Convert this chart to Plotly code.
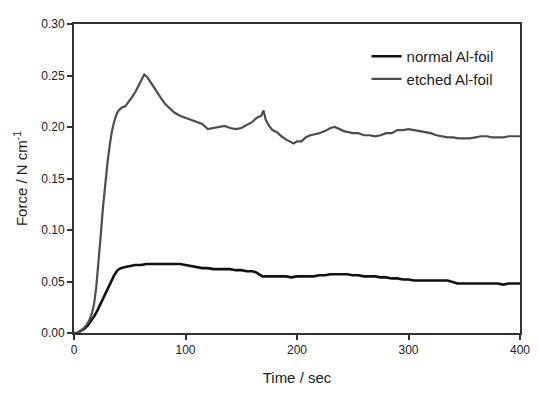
import plotly.graph_objects as go

# normal Al-foil
t_normal = [0, 3, 6, 9, 12, 15, 18, 21, 24, 27, 30, 33, 36, 39, 42, 46, 50, 55, 60, 65, 70, 75, 80, 85, 90, 95,
            100, 105, 110, 115, 120, 125, 130, 135, 140, 145, 150, 155, 160, 163, 166, 169, 172, 176, 180, 185,
            190, 195, 200, 205, 210, 215, 220, 225, 230, 235, 240, 245, 250, 255, 260, 265, 270, 275, 280, 285,
            290, 295, 300, 305, 310, 315, 320, 325, 330, 335, 338, 341, 344, 348, 352, 356, 360, 365, 370, 375,
            380, 385, 390, 395, 400]
f_normal = [0.000, 0.000, 0.002, 0.004, 0.007, 0.011, 0.016, 0.022, 0.029, 0.036, 0.043, 0.050, 0.056, 0.061, 0.063,
            0.064, 0.065, 0.066, 0.066, 0.067, 0.067, 0.067, 0.067, 0.067, 0.067, 0.067,
            0.066, 0.065, 0.064, 0.063, 0.063, 0.062, 0.062, 0.062, 0.062, 0.061, 0.061, 0.060, 0.060, 0.059,
            0.057, 0.055, 0.055, 0.055, 0.055, 0.055,
            0.055, 0.054, 0.055, 0.055, 0.055, 0.055, 0.056, 0.056, 0.057, 0.057, 0.057, 0.057, 0.056, 0.056,
            0.055, 0.055, 0.055, 0.054, 0.054, 0.053, 0.053, 0.052, 0.052, 0.051, 0.051, 0.051, 0.051, 0.051,
            0.051, 0.051, 0.050, 0.049, 0.048, 0.048, 0.048, 0.048, 0.048, 0.048, 0.048, 0.048,
            0.048, 0.047, 0.048, 0.048, 0.048]

# etched Al-foil
t_etched = [0, 3, 6, 9, 12, 14, 16, 18, 20, 22, 24, 26, 28, 30, 32, 34, 36, 38, 40, 43, 46, 49, 52, 55, 58, 61,
            63, 66, 70, 74, 78, 82, 86, 90, 95, 100, 105, 110, 115, 120, 125, 130, 135, 140, 145, 150, 155, 160,
            164, 168, 170, 172, 175, 178, 182, 186, 190, 194, 197, 200, 204, 208, 212, 216, 220, 225, 230, 234,
            238, 242, 246, 250, 255, 260, 265, 270, 275, 280, 285, 290, 295, 300, 305, 310, 315, 320, 325, 330,
            335, 340, 345, 350, 355, 360, 365, 370, 375, 380, 385, 390, 395, 400]
f_etched = [0.000, 0.000, 0.002, 0.005, 0.009, 0.013, 0.019, 0.028, 0.045, 0.068, 0.095, 0.122, 0.146, 0.165, 0.182,
            0.196, 0.205, 0.212, 0.216, 0.219, 0.220, 0.224, 0.229, 0.234, 0.240, 0.247,
            0.251, 0.248, 0.241, 0.234, 0.228, 0.222, 0.218, 0.214, 0.211, 0.209, 0.207, 0.205, 0.203, 0.198,
            0.199, 0.200, 0.201, 0.199, 0.198, 0.199, 0.202, 0.205,
            0.209, 0.211, 0.216, 0.207, 0.201, 0.197, 0.195, 0.191, 0.188, 0.186, 0.184, 0.186, 0.186, 0.190,
            0.192, 0.193, 0.194, 0.196, 0.199, 0.200,
            0.198, 0.196, 0.195, 0.194, 0.194, 0.192, 0.192, 0.191, 0.192, 0.194, 0.194, 0.197, 0.197, 0.198,
            0.197, 0.196, 0.195, 0.194, 0.192, 0.191, 0.190, 0.190, 0.189, 0.189, 0.189, 0.190, 0.191, 0.191,
            0.190, 0.190, 0.190, 0.191, 0.191, 0.191]

x_ticks = [0, 100, 200, 300, 400]
y_ticks = [0.00, 0.05, 0.10, 0.15, 0.20, 0.25, 0.30]
y_tick_labels = ["0.00", "0.05", "0.10", "0.15", "0.20", "0.25", "0.30"]

fig = go.Figure()
fig.add_trace(go.Scatter(x=t_normal, y=f_normal, mode="lines", name="normal Al-foil",
                         line=dict(color="#111111", width=2.6)))
fig.add_trace(go.Scatter(x=t_etched, y=f_etched, mode="lines", name="etched Al-foil",
                         line=dict(color="#4d4d4d", width=2.2)))

font_family = "Liberation Sans, Arial, sans-serif"
fig.update_layout(
    width=531, height=385,
    margin=dict(l=66, r=12, t=9, b=52),
    paper_bgcolor="white", plot_bgcolor="white",
    font=dict(family=font_family, size=12, color="#222222"),
    showlegend=True,
    legend=dict(x=0.656, y=0.948, xanchor="left", yanchor="top", bgcolor="rgba(0,0,0,0)",
                font=dict(size=15, color="#222222"), tracegroupgap=0, itemwidth=30),
    xaxis=dict(range=[0, 400], tickvals=x_ticks, ticks="outside", ticklen=5, tickwidth=1.5,
               tickcolor="#333333", showline=True, linecolor="#333333", linewidth=2, mirror=True,
               showgrid=False, zeroline=False, tickfont=dict(size=12),
               title=dict(text="Time / sec", font=dict(size=15), standoff=16)),
    yaxis=dict(range=[0, 0.30], tickvals=y_ticks, ticktext=y_tick_labels, ticks="outside", ticklen=5,
               tickwidth=1.5, tickcolor="#333333", showline=True, linecolor="#333333", linewidth=2,
               mirror=True, showgrid=False, zeroline=False, tickfont=dict(size=12),
               title=dict(text="Force / N cm<sup>-1</sup>", font=dict(size=15), standoff=10)),
)

fig.write_html("out.html")
